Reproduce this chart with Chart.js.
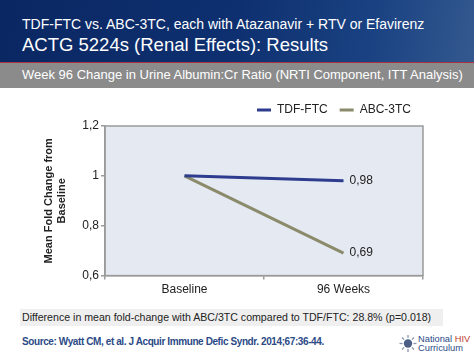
<!DOCTYPE html>
<html><head><meta charset="utf-8">
<script src="https://cdn.jsdelivr.net/npm/chart.js@4.4.1/dist/chart.umd.min.js"></script>
<style>
html,body{margin:0;padding:0;width:474px;height:355px;overflow:hidden;background:#fff;font-family:"Liberation Sans",Arial,sans-serif;}
#hdr{position:absolute;left:0;top:0;width:474px;height:62px;background:linear-gradient(100deg,#0a2762 0%,#0e3070 50%,#1a4282 78%,#34598f 100%);}
#t1{position:absolute;left:22px;top:16px;color:#fff;font-size:14px;white-space:nowrap;}
#t2{position:absolute;left:22px;top:34px;color:#fff;font-size:18.5px;white-space:nowrap;}
#red{position:absolute;left:0;top:62px;width:474px;height:1.5px;background:#a8333e;}
#band{position:absolute;left:0;top:63px;width:474px;height:25px;background:#8b8b8b;}
#bt{position:absolute;left:22px;top:67px;color:#fff;font-size:13px;white-space:nowrap;}
#box{position:absolute;left:20px;top:309px;width:423px;height:17px;background:#efefef;}
#bx{position:absolute;left:22px;top:311px;color:#222;font-size:10.6px;white-space:nowrap;}
#src{position:absolute;left:22px;top:336px;color:#2b4a86;font-size:10px;font-weight:bold;letter-spacing:-0.4px;white-space:nowrap;}
#logo{position:absolute;left:398px;top:333px;width:76px;height:21px;}
#c{position:absolute;left:0;top:92px;}
</style></head>
<body>
<div id="hdr"></div>
<div id="t1">TDF-FTC vs. ABC-3TC, each with Atazanavir + RTV or Efavirenz</div>
<div id="t2">ACTG 5224s (Renal Effects): Results</div>
<div id="red"></div>
<div id="band"></div>
<div id="bt">Week 96 Change in Urine Albumin:Cr Ratio (NRTI Component, ITT Analysis)</div>
<div id="box"></div>
<div id="bx">Difference in mean fold-change with ABC/3TC compared to TDF/FTC: 28.8% (p=0.018)</div>
<div id="src">Source: Wyatt CM, et al. J Acquir Immune Defic Syndr. 2014;67:36-44.</div>
<svg id="logo" viewBox="0 0 76 21">
<g transform="translate(10,10.5)" stroke="#8a96ad" stroke-width="1.3">
<line x1="0" y1="-8.5" x2="0" y2="-5.5"/><line x1="0" y1="8.5" x2="0" y2="5.5"/>
<line x1="-8.5" y1="0" x2="-5.5" y2="0"/><line x1="8.5" y1="0" x2="5.5" y2="0"/>
<line x1="-6" y1="-6" x2="-3.9" y2="-3.9"/><line x1="6" y1="6" x2="3.9" y2="3.9"/>
<line x1="-6" y1="6" x2="-3.9" y2="3.9"/><line x1="6" y1="-6" x2="3.9" y2="-3.9"/>
</g>
<circle cx="10" cy="10.5" r="4.2" fill="#4a5e86"/>
<text x="20" y="8.5" font-size="9.3" fill="#2b4a86" font-family="Liberation Sans,Arial">National <tspan fill="#c0392b">HIV</tspan></text>
<text x="20" y="18" font-size="9.3" fill="#2b4a86" font-family="Liberation Sans,Arial">Curriculum</text>
</svg>
<canvas id="c" width="474" height="208"></canvas>
<script>
const categories = ["Baseline", "96 Weeks"];
const tdfFtc = [1.0, 0.98];
const abc3tc = [1.0, 0.69];
const seriesNames = ["TDF-FTC", "ABC-3TC"];
const endLabels = [["", "0,98"], ["", "0,69"]];
const yTicks = [0.6, 0.8, 1.0, 1.2];

const plotBg = {
  id: 'plotBg',
  beforeDraw(chart) {
    const {ctx, chartArea: a} = chart;
    ctx.save();
    ctx.fillStyle = '#e5e9f1';
    ctx.fillRect(a.left, a.top, a.right - a.left, a.bottom - a.top);
    ctx.restore();
  },
  afterDraw(chart) {
    const {ctx, chartArea: a} = chart;
    ctx.save();
    ctx.strokeStyle = '#9a9a9a';
    ctx.lineWidth = 1.5;
    ctx.strokeRect(a.left, a.top, a.right - a.left, a.bottom - a.top);
    ctx.restore();
  }
};
const endLabelPlugin = {
  id: 'endLabels',
  afterDatasetsDraw(chart) {
    const ctx = chart.ctx;
    ctx.save();
    ctx.font = '12px "Liberation Sans", Arial, sans-serif';
    ctx.fillStyle = '#222';
    ctx.textBaseline = 'middle';
    chart.data.datasets.forEach((ds, i) => {
      const meta = chart.getDatasetMeta(i);
      meta.data.forEach((pt, j) => {
        const t = endLabels[i][j];
        if (t) ctx.fillText(t, pt.x + 6, pt.y);
      });
    });
    ctx.restore();
  }
};

new Chart(document.getElementById('c'), {
  type: 'line',
  data: {
    labels: categories,
    datasets: [
      {label: seriesNames[0], data: tdfFtc, borderColor: '#2d3c8e', backgroundColor: '#2d3c8e', borderWidth: 3, pointRadius: 0, pointStyle: 'line', tension: 0},
      {label: seriesNames[1], data: abc3tc, borderColor: '#8b8b6c', backgroundColor: '#8b8b6c', borderWidth: 3, pointRadius: 0, pointStyle: 'line', tension: 0}
    ]
  },
  options: {
    responsive: false,
    animation: false,
    layout: {padding: {left: 0, right: 51, top: 0, bottom: 0}},
    plugins: {
      legend: {
        position: 'top', align: 'end',
        labels: {usePointStyle: true, pointStyleWidth: 14, padding: 12, color: '#222', font: {size: 12, family: '"Liberation Sans", Arial, sans-serif'}}
      },
      tooltip: {enabled: false}
    },
    scales: {
      x: {
        offset: true,
        grid: {offset: true, drawOnChartArea: false, drawTicks: true, tickLength: 4, color: '#9a9a9a', lineWidth: 1.5},
        border: {display: true, color: '#9a9a9a', width: 1.5},
        ticks: {color: '#222', padding: 3, font: {size: 12, family: '"Liberation Sans", Arial, sans-serif'}}
      },
      y: {
        min: 0.6, max: 1.2,
        afterFit(scale) { scale.width = 105; },
        afterBuildTicks(scale) { scale.ticks = yTicks.map(v => ({value: v})); },
        grid: {drawOnChartArea: false, drawTicks: true, tickLength: 4, color: '#9a9a9a', lineWidth: 1.5},
        border: {display: true, color: '#9a9a9a', width: 1.5},
        ticks: {color: '#222', padding: 2, font: {size: 12, family: '"Liberation Sans", Arial, sans-serif'},
          callback: v => (Math.round(v * 10) / 10).toString().replace('.', ',')},
        title: {display: true, text: ['Mean Fold Change from', 'Baseline'], color: '#222', padding: {top: 42, bottom: 0},
          font: {size: 11, weight: 'bold', family: '"Liberation Sans", Arial, sans-serif'}}
      }
    }
  },
  plugins: [plotBg, endLabelPlugin]
});
</script>
</body></html>
